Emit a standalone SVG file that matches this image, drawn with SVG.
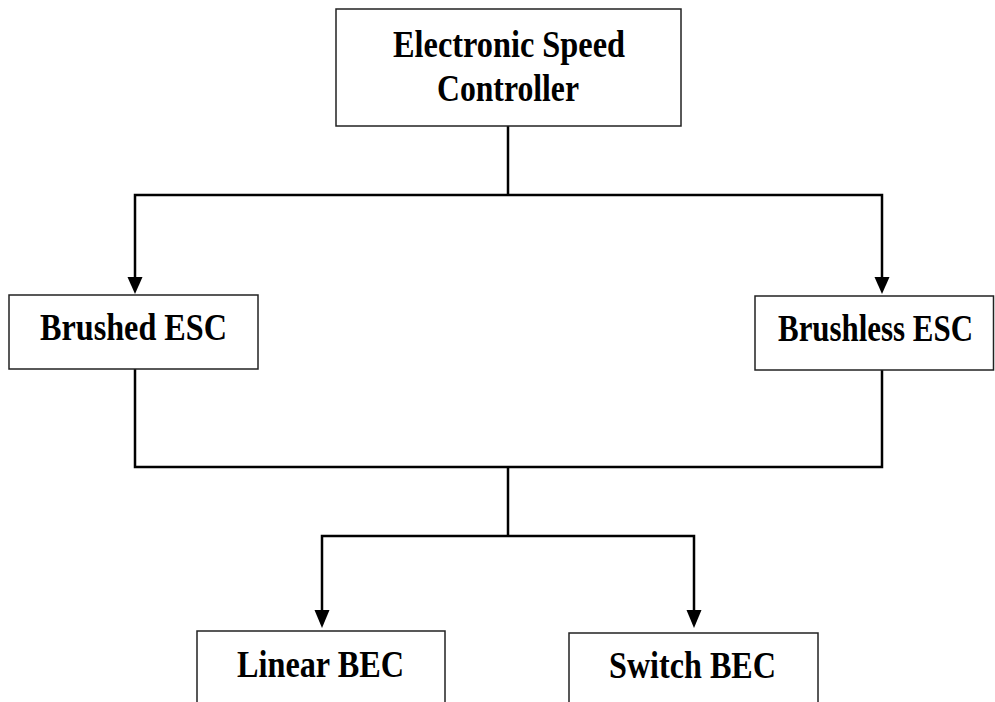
<svg xmlns="http://www.w3.org/2000/svg" width="995" height="702" viewBox="0 0 995 702">
<style>
.box{fill:#fff;stroke:#222;stroke-width:1.5}
.lbl{font-family:"Liberation Serif","Times New Roman",serif;font-weight:bold;font-size:37px;fill:#000;text-anchor:middle}
.conn{fill:none;stroke:#000;stroke-width:2.5}
</style>
<rect width="995" height="702" fill="#fff"/>
<g id="connectors">
<path class="conn" d="M508,126 V195"/>
<path class="conn" d="M508,195 H135 V280"/>
<path class="conn" d="M508,195 H882 V280"/>
<polygon points="127.5,277 142.5,277 135,294" fill="#000"/>
<polygon points="874.5,277 889.5,277 882,294" fill="#000"/>
<path class="conn" d="M135,369 V467 H882 V370"/>
<path class="conn" d="M508,467 V536"/>
<path class="conn" d="M508,536 H322 V612"/>
<path class="conn" d="M508,536 H694 V612"/>
<polygon points="314.5,610 329.5,610 322,628" fill="#000"/>
<polygon points="686.5,610 701.5,610 694,628" fill="#000"/>
</g>
<g id="esc">
<rect class="box" x="336" y="9" width="345" height="117"/>
<text class="lbl" x="509" y="57" textLength="232" lengthAdjust="spacingAndGlyphs">Electronic Speed</text>
<text class="lbl" x="508" y="101" textLength="142" lengthAdjust="spacingAndGlyphs">Controller</text>
</g>
<g id="brushed">
<rect class="box" x="9" y="295" width="249" height="74"/>
<text class="lbl" x="133.5" y="340" textLength="187" lengthAdjust="spacingAndGlyphs">Brushed ESC</text>
</g>
<g id="brushless">
<rect class="box" x="755" y="296" width="238.5" height="74"/>
<text class="lbl" style="font-size:33px" transform="translate(875.5,341) scale(1,1.12)" x="0" y="0" textLength="195" lengthAdjust="spacingAndGlyphs">Brushless ESC</text>
</g>
<g id="linear">
<rect class="box" x="197" y="631" width="248" height="90"/>
<text class="lbl" x="320.5" y="677" textLength="167" lengthAdjust="spacingAndGlyphs">Linear BEC</text>
</g>
<g id="switch">
<rect class="box" x="569" y="633" width="249" height="90"/>
<text class="lbl" x="692.5" y="678" textLength="167" lengthAdjust="spacingAndGlyphs">Switch BEC</text>
</g>
</svg>
